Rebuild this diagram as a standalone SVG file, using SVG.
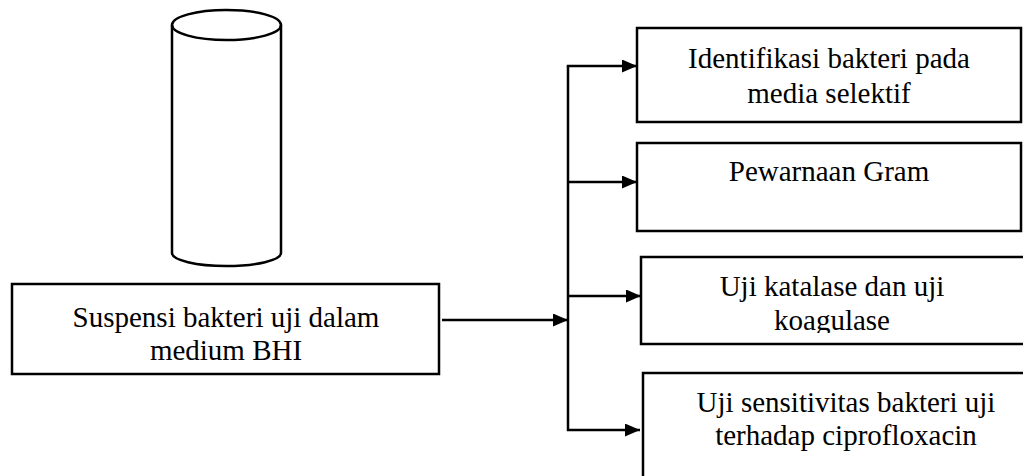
<svg xmlns="http://www.w3.org/2000/svg" width="1023" height="476" viewBox="0 0 1023 476">
<style>
.box{fill:#fff;stroke:#000;stroke-width:2.5}
.ln{fill:none;stroke:#000;stroke-width:2.5}
.t{font-family:"Liberation Serif","Times New Roman",serif;font-size:29px;fill:#000;text-anchor:middle}
</style>
<defs>
<marker id="ah" markerWidth="15" markerHeight="13" refX="15" refY="6.5" orient="auto" markerUnits="userSpaceOnUse">
<path d="M0,0 L15,6.5 L0,13 Z" fill="#000"/>
</marker>
<clipPath id="c3"><rect x="641" y="257" width="382" height="76"/></clipPath>
</defs>
<rect width="1023" height="476" fill="#fff"/>
<g id="cylinder">
<path class="ln" d="M172,25 L172,253 A54.5,13 0 0 0 281,253 L281,25"/>
<ellipse class="ln" cx="226.5" cy="25" rx="54.5" ry="15"/>
</g>
<g id="main">
<rect class="box" x="12" y="284" width="427" height="90"/>
<text class="t" x="226" y="327">Suspensi bakteri uji dalam</text>
<text class="t" x="226" y="360">medium BHI</text>
</g>
<g id="connectors">
<line class="ln" x1="442" y1="320" x2="568" y2="320" marker-end="url(#ah)"/>
<polyline class="ln" points="568,66 568,430 640,430" marker-end="url(#ah)"/>
<line class="ln" x1="566.75" y1="66" x2="637" y2="66" marker-end="url(#ah)"/>
<line class="ln" x1="568" y1="182" x2="637" y2="182" marker-end="url(#ah)"/>
<line class="ln" x1="568" y1="296" x2="641" y2="296" marker-end="url(#ah)"/>
</g>
<g id="n1">
<rect class="box" x="637" y="28" width="384" height="94"/>
<text class="t" x="829" y="68">Identifikasi bakteri pada</text>
<text class="t" x="829" y="103">media selektif</text>
</g>
<g id="n2">
<rect class="box" x="637" y="143" width="384" height="88"/>
<text class="t" x="829" y="181">Pewarnaan Gram</text>
</g>
<g id="n3">
<rect class="box" x="641" y="257" width="390" height="87"/>
<g clip-path="url(#c3)">
<text class="t" x="832" y="296">Uji katalase dan uji</text>
<text class="t" x="832" y="330">koagulase</text>
</g>
</g>
<g id="n4">
<rect class="box" x="643" y="373" width="390" height="120"/>
<text class="t" x="846" y="412">Uji sensitivitas bakteri uji</text>
<text class="t" x="846" y="445">terhadap ciprofloxacin</text>
</g>
</svg>
